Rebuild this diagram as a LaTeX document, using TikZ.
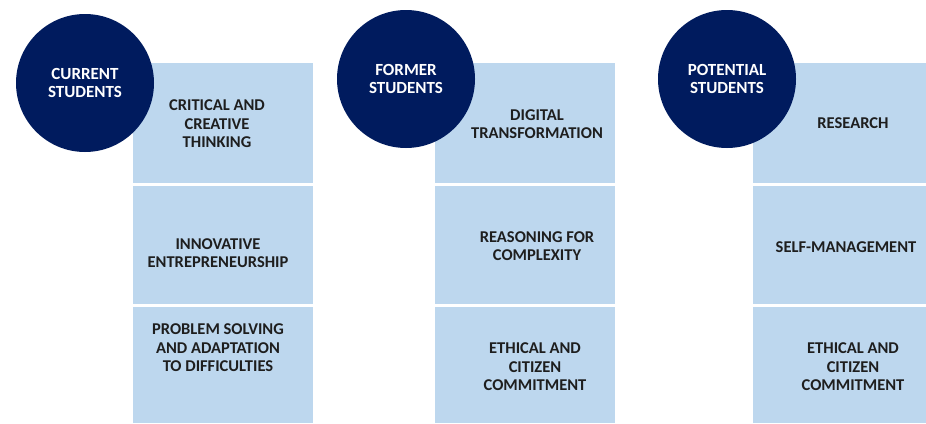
\documentclass[tikz,border=0pt]{standalone}
\usepackage{fontspec}
\setmainfont{Carlito}
\usetikzlibrary{positioning}

\definecolor{navy}{HTML}{001B5E}
\definecolor{paleblue}{HTML}{BDD7EE}
\definecolor{inktext}{HTML}{1E1E1E}

\tikzset{
    group/.style={circle, fill=navy, minimum size=138pt, inner sep=0pt, text=white, align=center,
        font=\fontsize{17}{18}\selectfont\bfseries},
    cell/.style={rectangle, fill=paleblue, anchor=north west, minimum width=180pt, inner sep=0pt, outer sep=0pt},
    skill/.style={text=inktext, align=center, inner sep=0pt, font=\fontsize{16.5}{18.5}\selectfont\bfseries},
}

\begin{document}
\begin{tikzpicture}[x=1pt, y=-1pt]
    \useasboundingbox (0,0) rectangle (926,423);

%   current students
    \node[cell, minimum height=120pt] (c1) at (133,63) {};
    \node[cell, minimum height=118pt] (c2) at (133,186) {};
    \node[cell, minimum height=116pt] (c3) at (133,307) {};
    \node[skill] (c1t) at (217,124) {CRITICAL AND\\CREATIVE\\THINKING};
    \node[skill] (c2t) at (218,253) {INNOVATIVE\\ENTREPRENEURSHIP};
    \node[skill] (c3t) at (218,348) {PROBLEM SOLVING\\AND ADAPTATION\\TO DIFFICULTIES};
    \node[group] (current) at (85,83) {CURRENT\\STUDENTS};

%   former students
    \node[cell, minimum height=120pt] (f1) at (435,63) {};
    \node[cell, minimum height=118pt] (f2) at (435,186) {};
    \node[cell, minimum height=116pt] (f3) at (435,307) {};
    \node[skill] (f1t) at (537,124) {DIGITAL\\TRANSFORMATION};
    \node[skill] (f2t) at (537,246) {REASONING FOR\\COMPLEXITY};
    \node[skill] (f3t) at (535,367) {ETHICAL AND\\CITIZEN\\COMMITMENT};
    \node[group] (former) at (406,79) {FORMER\\STUDENTS};

%   potential students
    \node[cell, minimum height=120pt, minimum width=173pt] (p1) at (753,63) {};
    \node[cell, minimum height=118pt, minimum width=173pt] (p2) at (753,186) {};
    \node[cell, minimum height=116pt, minimum width=173pt] (p3) at (753,307) {};
    \node[skill] (p1t) at (853,123) {RESEARCH};
    \node[skill] (p2t) at (846,247) {SELF-MANAGEMENT};
    \node[skill] (p3t) at (853,367) {ETHICAL AND\\CITIZEN\\COMMITMENT};
    \node[group] (potential) at (727,79) {POTENTIAL\\STUDENTS};

\end{tikzpicture}
\end{document}
